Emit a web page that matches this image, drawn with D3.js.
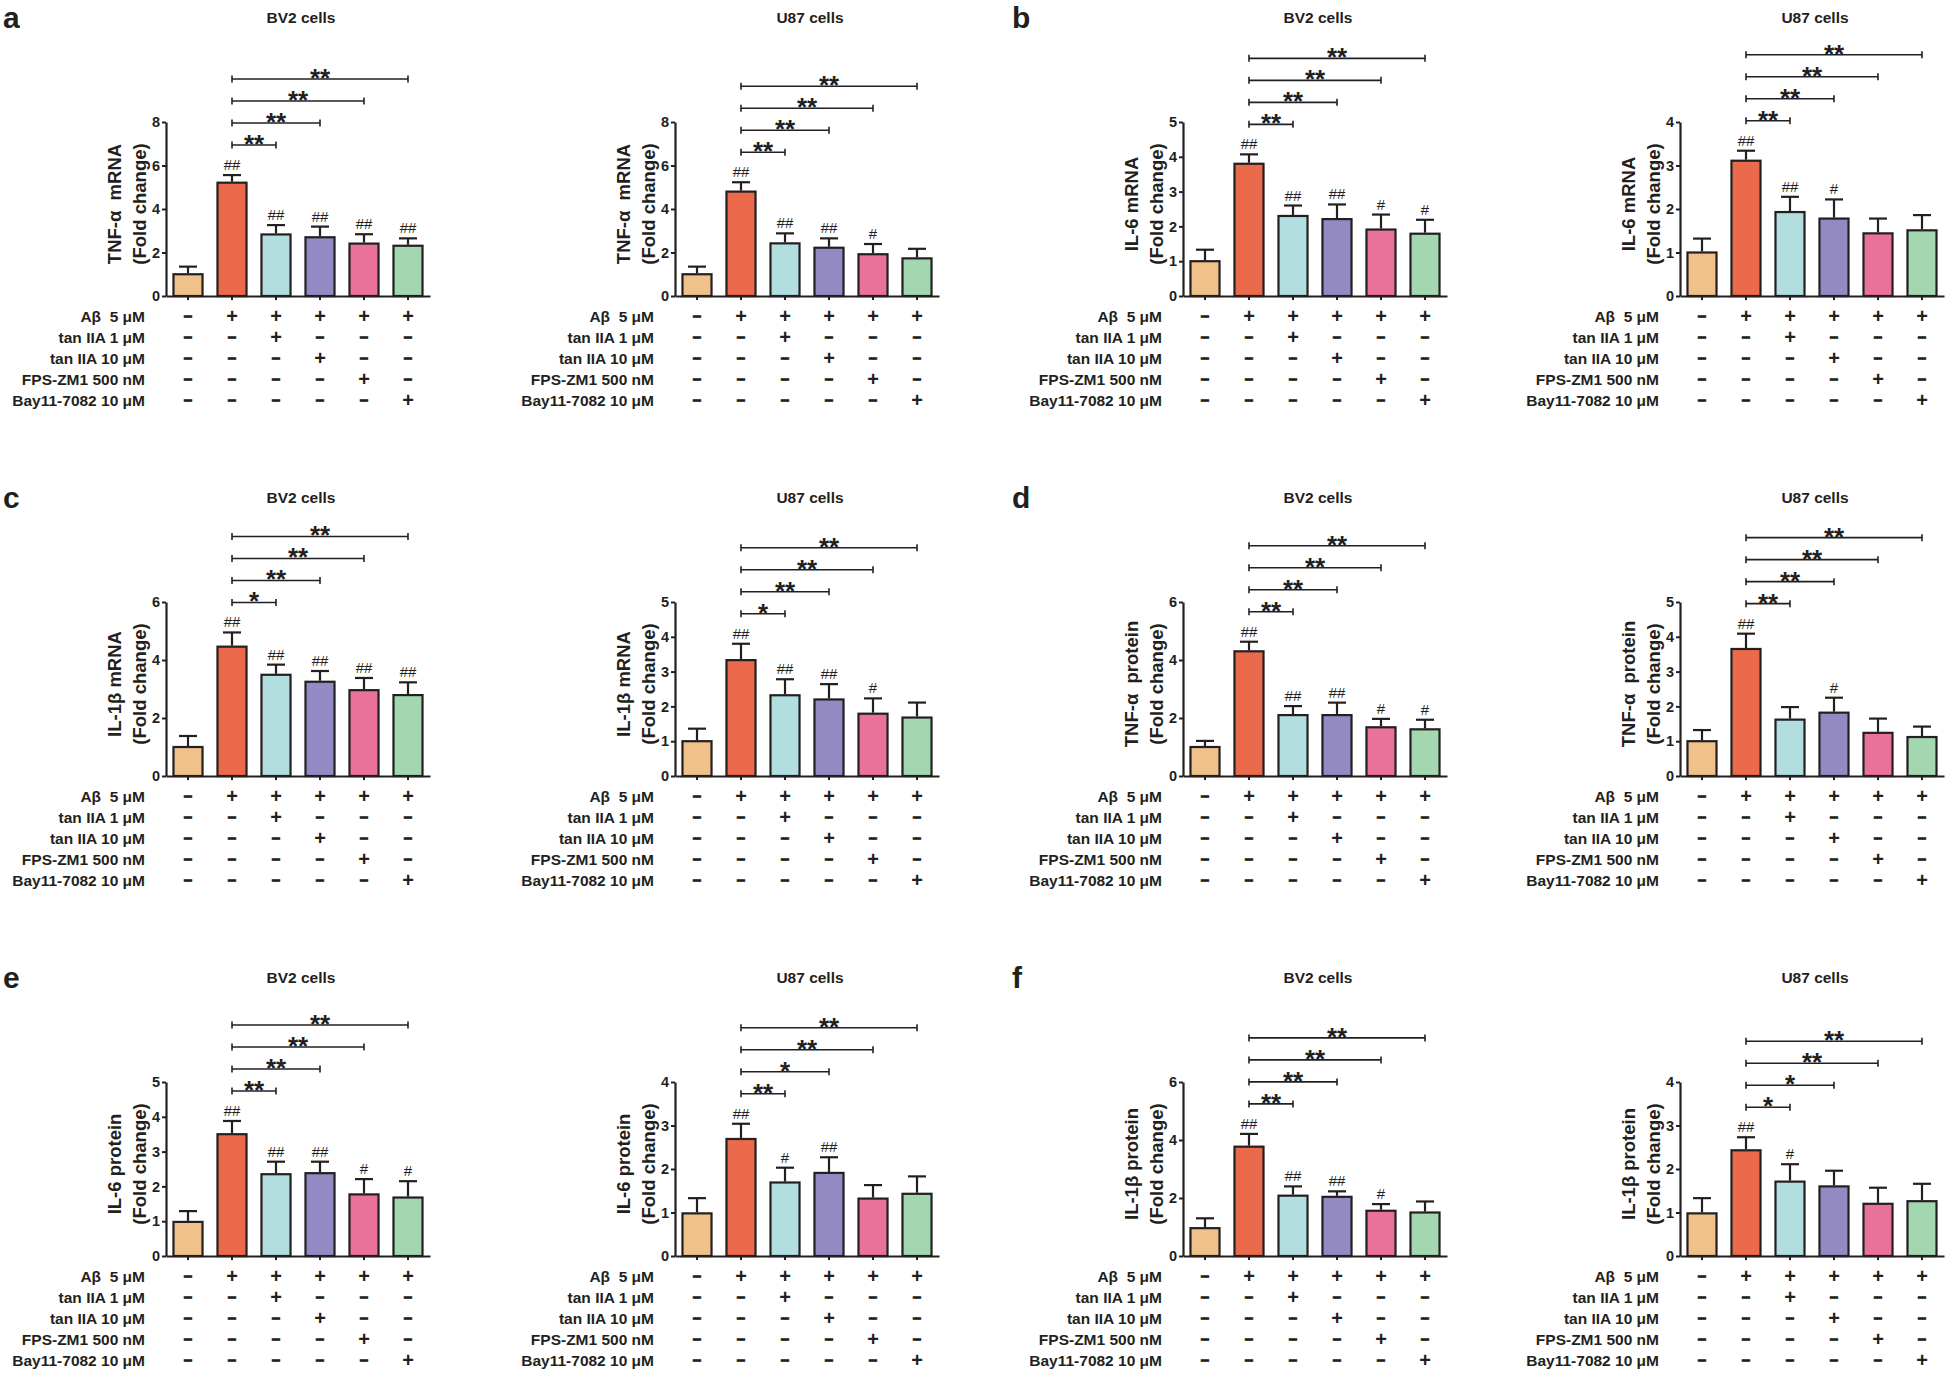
<!DOCTYPE html>
<html lang="en">
<head>
<meta charset="UTF-8">
<title>Aβ cytokine panels</title>
<script src="https://cdn.jsdelivr.net/npm/d3@7"></script>
<style>
  body { margin: 0; background: #fff; }
  text { font-family: "Liberation Sans", Arial, sans-serif; fill: #231f20; }
</style>
</head>
<body>
<div id="chart"></div>
<script>
// groups, left to right
const groups = ["Ctrl", "Aβ", "Aβ+tan1", "Aβ+tan10", "Aβ+FPS", "Aβ+Bay"];
const barColors = ["#f1c18b", "#ea6a4b", "#b2dedf", "#938ac3", "#e9729a", "#a2d7b0"];

const treatmentLabels = ["Aβ  5 μM", "tan IIA 1 μM", "tan IIA 10 μM", "FPS-ZM1 500 nM", "Bay11-7082 10 μM"];
const treatmentSigns = [
  ["-", "+", "+", "+", "+", "+"],
  ["-", "-", "+", "-", "-", "-"],
  ["-", "-", "-", "+", "-", "-"],
  ["-", "-", "-", "-", "+", "-"],
  ["-", "-", "-", "-", "-", "+"]
];

const panelLetters = ["a", "b", "c", "d", "e", "f"];
const cellTitles = ["BV2 cells", "U87 cells"];
const yLabels = [
  ["TNF-α  mRNA", "(Fold change)"],
  ["IL-6 mRNA", "(Fold change)"],
  ["IL-1β mRNA", "(Fold change)"],
  ["TNF-α  protein", "(Fold change)"],
  ["IL-6 protein", "(Fold change)"],
  ["IL-1β protein", "(Fold change)"]
];

// 12 charts in reading order: a-BV2, a-U87, b-BV2, b-U87, ...
const yMax  = [8, 8, 5, 4, 6, 5, 6, 5, 5, 4, 6, 4];
const yStep = [2, 2, 1, 1, 2, 1, 2, 1, 1, 1, 2, 1];

const means = [
  [1.00, 5.21, 2.83, 2.70, 2.41, 2.31],
  [1.00, 4.80, 2.42, 2.22, 1.92, 1.73],
  [1.00, 3.80, 2.30, 2.21, 1.91, 1.79],
  [1.00, 3.11, 1.93, 1.78, 1.44, 1.51],
  [1.00, 4.46, 3.49, 3.25, 2.96, 2.79],
  [1.00, 3.33, 2.32, 2.20, 1.79, 1.68],
  [1.00, 4.30, 2.10, 2.10, 1.68, 1.61],
  [1.00, 3.65, 1.62, 1.82, 1.24, 1.12],
  [0.98, 3.50, 2.35, 2.38, 1.77, 1.68],
  [0.98, 2.69, 1.69, 1.91, 1.32, 1.43],
  [0.96, 3.77, 2.08, 2.04, 1.56, 1.50],
  [0.98, 2.43, 1.71, 1.60, 1.20, 1.26]
];
const errors = [
  [0.35, 0.35, 0.43, 0.49, 0.43, 0.34],
  [0.35, 0.43, 0.46, 0.43, 0.47, 0.44],
  [0.33, 0.27, 0.30, 0.42, 0.43, 0.40],
  [0.32, 0.23, 0.35, 0.44, 0.34, 0.35],
  [0.38, 0.49, 0.35, 0.37, 0.42, 0.44],
  [0.36, 0.47, 0.46, 0.44, 0.44, 0.43],
  [0.21, 0.33, 0.31, 0.43, 0.29, 0.33],
  [0.32, 0.44, 0.36, 0.43, 0.41, 0.30],
  [0.31, 0.38, 0.36, 0.33, 0.44, 0.47],
  [0.35, 0.35, 0.34, 0.36, 0.31, 0.40],
  [0.34, 0.44, 0.32, 0.19, 0.23, 0.38],
  [0.35, 0.30, 0.40, 0.36, 0.37, 0.40]
];
// # vs control
const hashes = [
  ["", "##", "##", "##", "##", "##"],
  ["", "##", "##", "##", "#", ""],
  ["", "##", "##", "##", "#", "#"],
  ["", "##", "##", "#", "", ""],
  ["", "##", "##", "##", "##", "##"],
  ["", "##", "##", "##", "#", ""],
  ["", "##", "##", "##", "#", "#"],
  ["", "##", "", "#", "", ""],
  ["", "##", "##", "##", "#", "#"],
  ["", "##", "#", "##", "", ""],
  ["", "##", "##", "##", "#", ""],
  ["", "##", "#", "", "", ""]
];
// * vs Aβ alone, groups 3..6
const stars = [
  ["**", "**", "**", "**"],
  ["**", "**", "**", "**"],
  ["**", "**", "**", "**"],
  ["**", "**", "**", "**"],
  ["*", "**", "**", "**"],
  ["*", "**", "**", "**"],
  ["**", "**", "**", "**"],
  ["**", "**", "**", "**"],
  ["**", "**", "**", "**"],
  ["**", "*", "**", "**"],
  ["**", "**", "**", "**"],
  ["*", "*", "**", "**"]
];

const width = 1946, height = 1373;
const colX = [166, 675, 1183, 1680];   // y-axis position of each column
const rowY = [296, 776, 1256];         // baseline (y = 0) of each row
const plotW = 264, plotH = 174;
const ink = "#231f20";

const svg = d3.select("#chart")
  .append("svg")
  .attr("width", width)
  .attr("height", height);

svg.append("rect").attr("width", width).attr("height", height).attr("fill", "#fff");

means.forEach((vals, i) => {
  const row = Math.floor(i / 4), col = i % 4;
  const ax = colX[col], y0 = rowY[row];
  const g = svg.append("g");

  const x = d3.scaleBand()
    .domain(d3.range(groups.length))
    .range([ax, ax + plotW])
    .paddingInner(0.34)
    .paddingOuter(0.17);
  const y = d3.scaleLinear()
    .domain([0, yMax[i]])
    .range([y0, y0 - plotH]);
  const cx = k => x(k) + x.bandwidth() / 2;

  // panel letter (only on the BV2 chart)
  if (i % 2 === 0) {
    g.append("text")
      .attr("x", col === 0 ? 3 : 1012)
      .attr("y", y0 - 268)
      .attr("font-size", 30)
      .attr("font-weight", "bold")
      .text(panelLetters[Math.floor(i / 2)]);
  }

  // title
  g.append("text")
    .attr("x", ax + 135)
    .attr("y", y0 - 273)
    .attr("text-anchor", "middle")
    .attr("font-size", 15.5)
    .attr("font-weight", "bold")
    .text(cellTitles[i % 2]);

  // bars
  g.selectAll("rect.bar")
    .data(vals)
    .join("rect")
    .attr("class", "bar")
    .attr("x", (d, k) => x(k))
    .attr("y", d => y(d))
    .attr("width", x.bandwidth())
    .attr("height", d => y0 - y(d))
    .attr("fill", (d, k) => barColors[k])
    .attr("stroke", ink)
    .attr("stroke-width", 2.2);

  // error bars (upper only)
  const eb = g.selectAll("g.err")
    .data(vals)
    .join("g")
    .attr("class", "err");
  eb.append("line")
    .attr("x1", (d, k) => cx(k)).attr("x2", (d, k) => cx(k))
    .attr("y1", d => y(d) - 1)
    .attr("y2", (d, k) => y(d + errors[i][k]))
    .attr("stroke", ink).attr("stroke-width", 2.2);
  eb.append("line")
    .attr("x1", (d, k) => cx(k) - 9).attr("x2", (d, k) => cx(k) + 9)
    .attr("y1", (d, k) => y(d + errors[i][k]))
    .attr("y2", (d, k) => y(d + errors[i][k]))
    .attr("stroke", ink).attr("stroke-width", 2.2);

  // # marks
  g.selectAll("text.hash")
    .data(hashes[i])
    .join("text")
    .attr("class", "hash")
    .attr("x", (d, k) => cx(k))
    .attr("y", (d, k) => y(vals[k] + errors[i][k]) - 5)
    .attr("text-anchor", "middle")
    .attr("font-size", 15)
    .text(d => d);

  // axes
  const yAxis = d3.axisLeft(y)
    .tickValues(d3.range(0, yMax[i] + 0.001, yStep[i]))
    .tickFormat(d3.format("d"))
    .tickSize(4).tickSizeOuter(0).tickPadding(2);
  const ya = g.append("g").attr("transform", `translate(${ax},0)`).call(yAxis);
  ya.select(".domain").attr("stroke", ink).attr("stroke-width", 2.2);
  ya.selectAll(".tick line").attr("stroke", ink).attr("stroke-width", 2);
  ya.selectAll(".tick text")
    .attr("font-size", 14.5).attr("font-weight", "bold")
    .attr("font-family", "Liberation Sans, Arial, sans-serif")
    .attr("fill", ink);

  const xAxis = d3.axisBottom(x).tickSize(4).tickSizeOuter(0).tickFormat("");
  const xa = g.append("g").attr("transform", `translate(0,${y0})`).call(xAxis);
  xa.select(".domain").attr("stroke", ink).attr("stroke-width", 2.2);
  xa.selectAll(".tick line").attr("stroke", ink).attr("stroke-width", 2);

  // y label, two lines
  const midY = y0 - plotH / 2 - 5;
  yLabels[Math.floor(i / 2)].forEach((line, li) => {
    g.append("text")
      .attr("transform", `translate(${ax - (li === 0 ? 52 : 27)},${midY}) rotate(-90)`)
      .attr("text-anchor", "middle")
      .attr("dominant-baseline", "central")
      .attr("font-size", 18.5)
      .attr("font-weight", "bold")
      .style("white-space", "pre")
      .text(line);
  });

  // significance brackets vs Aβ
  const base = y(vals[1] + errors[i][1]) - 30;
  stars[i].forEach((s, j) => {
    const by = base - j * 22;
    const xa1 = cx(1), xb1 = cx(j + 2);
    g.append("line").attr("x1", xa1).attr("x2", xb1).attr("y1", by).attr("y2", by)
      .attr("stroke", ink).attr("stroke-width", 1.6);
    [xa1, xb1].forEach(xx => g.append("line")
      .attr("x1", xx).attr("x2", xx).attr("y1", by - 3.5).attr("y2", by + 3.5)
      .attr("stroke", ink).attr("stroke-width", 1.6));
    g.append("text")
      .attr("x", (xa1 + xb1) / 2)
      .attr("y", by + 8)
      .attr("text-anchor", "middle")
      .attr("font-size", 26)
      .attr("font-weight", "bold")
      .text(s);
  });

  // treatment table
  treatmentLabels.forEach((lab, r) => {
    const ry = y0 + 20 + r * 21;
    g.append("text")
      .attr("x", ax - 21)
      .attr("y", ry + 5.5)
      .attr("text-anchor", "end")
      .attr("font-size", 15.5)
      .attr("font-weight", "bold")
      .style("white-space", "pre")
      .text(lab);
    treatmentSigns[r].forEach((s, k) => {
      const plus = s === "+";
      g.append("text")
        .attr("x", cx(k))
        .attr("y", plus ? ry + 7 : ry + 4.5)
        .attr("text-anchor", "middle")
        .attr("font-size", plus ? 20 : 15)
        .attr("font-weight", "bold")
        .attr("stroke", plus ? "none" : ink)
        .attr("stroke-width", plus ? 0 : 1)
        .text(plus ? "+" : "–");
    });
  });
});
</script>
</body>
</html>
